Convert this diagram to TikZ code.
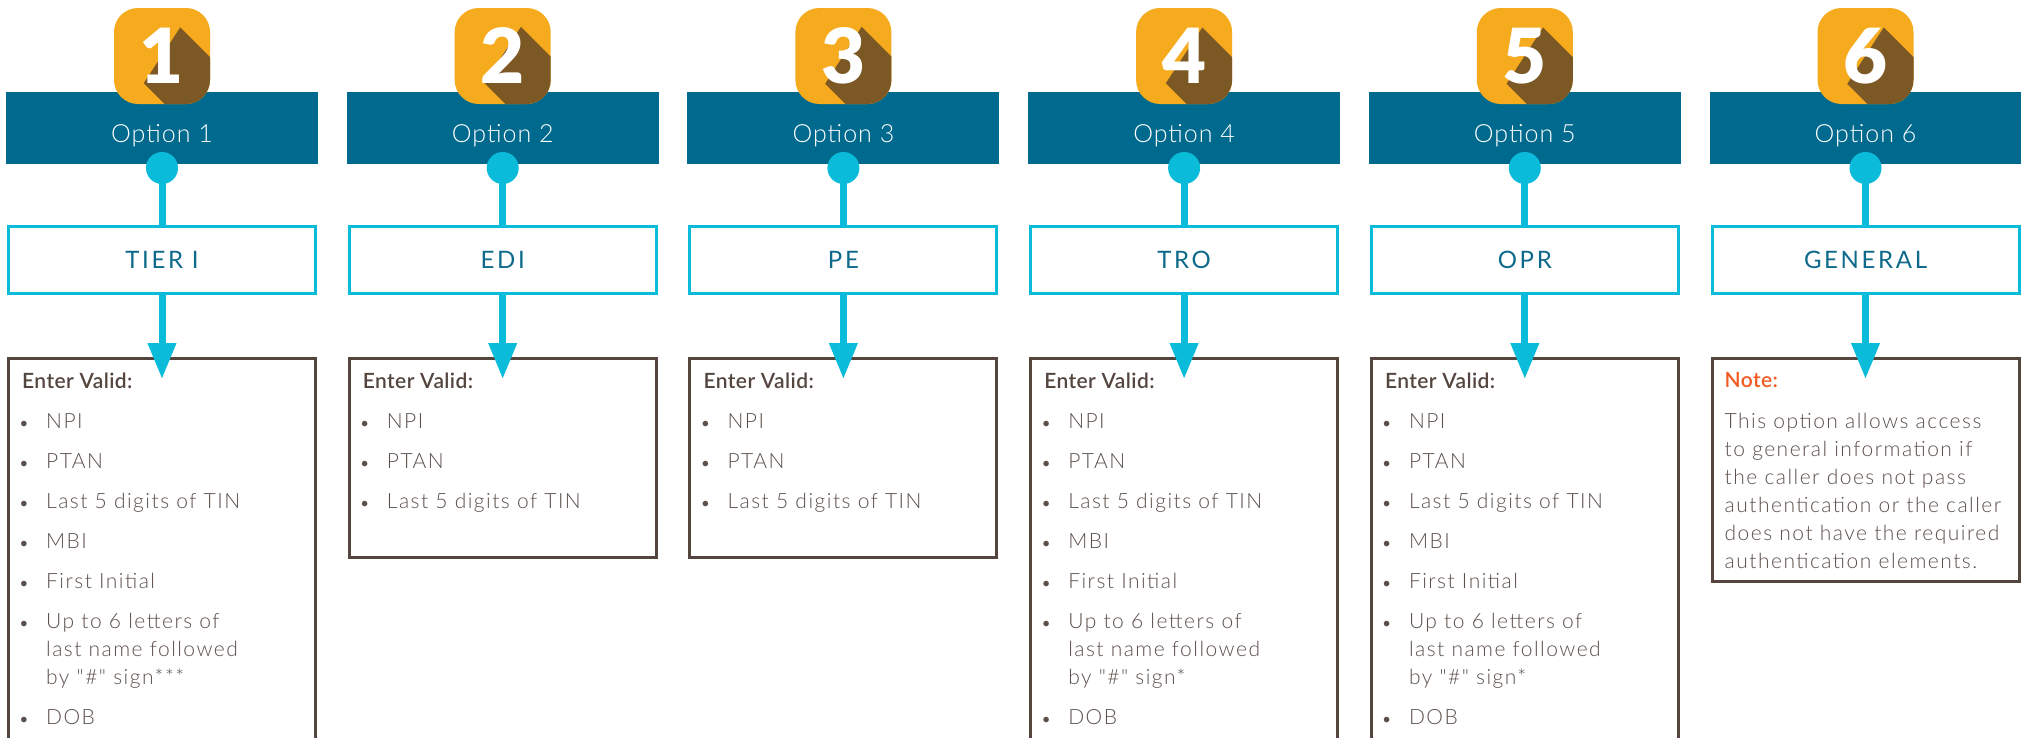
\documentclass[tikz,border=0pt]{standalone}
\usepackage{fontspec}
\usetikzlibrary{arrows.meta}
\setmainfont{Lato}
\IfFontExistsTF{Lato Light}{\newfontfamily\lightf{Lato Light}[LetterSpace=7]\newfontfamily\optf{Lato Light}[LetterSpace=4]}{\newfontfamily\lightf{Lato}[LetterSpace=7]\newfontfamily\optf{Lato}[LetterSpace=4]}
\IfFontExistsTF{Lato Black}{\newfontfamily\heavyf{Lato Black}}{\newcommand\heavyf{\bfseries}}
\IfFontExistsTF{Lato Semibold}{\newfontfamily\semif{Lato Semibold}[LetterSpace=2]}{\newcommand\semif{\bfseries}}
\newfontfamily\tierf{Lato}[LetterSpace=11]
\newcommand\digitfont{\heavyf\fontsize{76}{80}\selectfont}
\pgfdeclarelayer{bglayer}
\pgfdeclarelayer{shlayer}
\pgfsetlayers{bglayer,shlayer,main}
\definecolor{hdrblue}{HTML}{006A8E}
\definecolor{badgeorange}{HTML}{F6AB1F}
\definecolor{shadowbrown}{HTML}{7C5824}
\definecolor{cyanc}{HTML}{0ABCDA}
\definecolor{tiertext}{HTML}{0E6A8B}
\definecolor{boxline}{HTML}{54463F}
\definecolor{bodytext}{HTML}{5C504B}
\definecolor{noteorange}{HTML}{F15A22}
\newcommand\bitem[4]{%
  \node[bul] (#1b) at (#2+17,#3) {•};
  \node[body] (#1) at (#2+39,#3) {#4};}
\newcommand\fulllist[3]{%
  \node[head] (#3ev) at (#1+15,388) {Enter Valid:};
  \bitem{#3a}{#1}{428}{NPI}
  \bitem{#3b}{#1}{468}{PTAN}
  \bitem{#3c}{#1}{508}{Last 5 digits of TIN}
  \bitem{#3d}{#1}{548}{MBI}
  \bitem{#3e}{#1}{588}{First Initial}
  \bitem{#3f}{#1}{628}{Up to 6 letters of}
  \node[body] (#3g) at (#1+39,656) {last name followed};
  \node[body] (#3h) at (#1+39,684) {by "\#" sign#2};
  \bitem{#3i}{#1}{724}{DOB}}
\newcommand\shortlist[2]{%
  \node[head] (#2ev) at (#1+15,388) {Enter Valid:};
  \bitem{#2a}{#1}{428}{NPI}
  \bitem{#2b}{#1}{468}{PTAN}
  \bitem{#2c}{#1}{508}{Last 5 digits of TIN}}
\newcommand\notelist[2]{%
  \node[head, text=noteorange] (#2n) at (#1+14,387) {Note:};
  \node[body] (#2a) at (#1+14,428) {This option allows access};
  \node[body] (#2b) at (#1+14,456) {to general information if};
  \node[body] (#2c) at (#1+14,484) {the caller does not pass};
  \node[body] (#2d) at (#1+14,512) {authentication or the caller};
  \node[body] (#2e) at (#1+14,540) {does not have the required};
  \node[body] (#2f) at (#1+14,568) {authentication elements.};}
\def\kfull{full}
\def\kshort{short}
\def\knote{note}
\begin{document}
\begin{tikzpicture}[x=1pt,y=-1pt,
  hdr/.style={fill=hdrblue, minimum width=312pt, minimum height=72pt, inner sep=0pt, draw=none},
  opt/.style={text=white, font=\optf\fontsize{25}{28}\selectfont, inner sep=0pt, anchor=base},
  digit/.style={font=\digitfont, inner sep=0pt, anchor=base},
  dotn/.style={circle, fill=cyanc, minimum size=32pt, inner sep=0pt},
  tierbox/.style={draw=cyanc, line width=3pt, fill=white, minimum width=307pt, minimum height=67pt, text=tiertext, font=\tierf\fontsize{24}{26}\selectfont, inner sep=0pt},
  conn/.style={cyanc, line width=7pt},
  arr/.style={cyanc, line width=7pt, -{Triangle[length=36pt,width=27pt]}},
  listbox/.style={draw=boxline, line width=3pt, minimum width=307pt, inner sep=0pt, anchor=north},
  head/.style={text=boxline, font=\semif\fontsize{21}{24}\selectfont, inner sep=0pt, anchor=base west},
  body/.style={text=bodytext, font=\lightf\fontsize{21}{24}\selectfont, inner sep=0pt, anchor=base west},
  bul/.style={text=bodytext, font=\fontsize{15}{18}\selectfont, inner sep=0pt, anchor=base}]
\useasboundingbox (0,0) rectangle (2021,737);
\clip (0,0) rectangle (2021,737);
\begin{pgfonlayer}{bglayer}
  \fill[white] (0,0) rectangle (2021,737);
\end{pgfonlayer}
\foreach \i/\lab/\kind/\bot/\suf in {1/TIER I/full/780/***, 2/EDI/short/559/x, 3/PE/short/559/x, 4/TRO/full/780/*, 5/OPR/full/780/*, 6/GENERAL/note/583/x}{
  \pgfmathsetmacro\cx{162+340.7*(\i-1)}
  \pgfmathsetmacro\lx{\cx-155}
  \pgfmathsetmacro\bh{\bot-360}
  % header bar and badge background
  \begin{pgfonlayer}{bglayer}
    \node[hdr] (hdr\i) at (\cx,128) {};
    \fill[badgeorange, rounded corners=24pt] (\cx-48,8) rectangle (\cx+48,104);
  \end{pgfonlayer}
  \node[opt] (opt\i) at (\cx,142) {Option \i};
  % digit with long shadow
  \node[digit, text=white] (num\i) at (\cx,83) {\i};
  \begin{pgfonlayer}{shlayer}
    \begin{scope}
      \clip[rounded corners=24pt] (\cx-48,8) rectangle (\cx+48,104);
      \fill[shadowbrown] ([shift={(4,0)}]num\i.south west) -- ([shift={(-4,0)}]num\i.north east)
        -- ([shift={(96,100)}]num\i.north east) -- ([shift={(104,100)}]num\i.south west) -- cycle;
    \end{scope}
  \end{pgfonlayer}
  % dot, connector, tier box
  \node[dotn] (dot\i) at (\cx,168) {};
  \node[tierbox] (tier\i) at (\cx,260) {\lab};
  \draw[conn] (dot\i.center) -- (tier\i.north);
  % list box and arrow
  \node[listbox, minimum height=\bh] (lst\i) at (\cx,357) {};
  \coordinate (tip\i) at (\cx,379);
  \draw[arr] (tier\i.south) -- (tip\i);
  % box contents
  \ifx\kind\kfull \fulllist{\lx}{\suf}{c\i}\fi
  \ifx\kind\kshort \shortlist{\lx}{c\i}\fi
  \ifx\kind\knote \notelist{\lx}{c\i}\fi
}
\end{tikzpicture}
\end{document}
